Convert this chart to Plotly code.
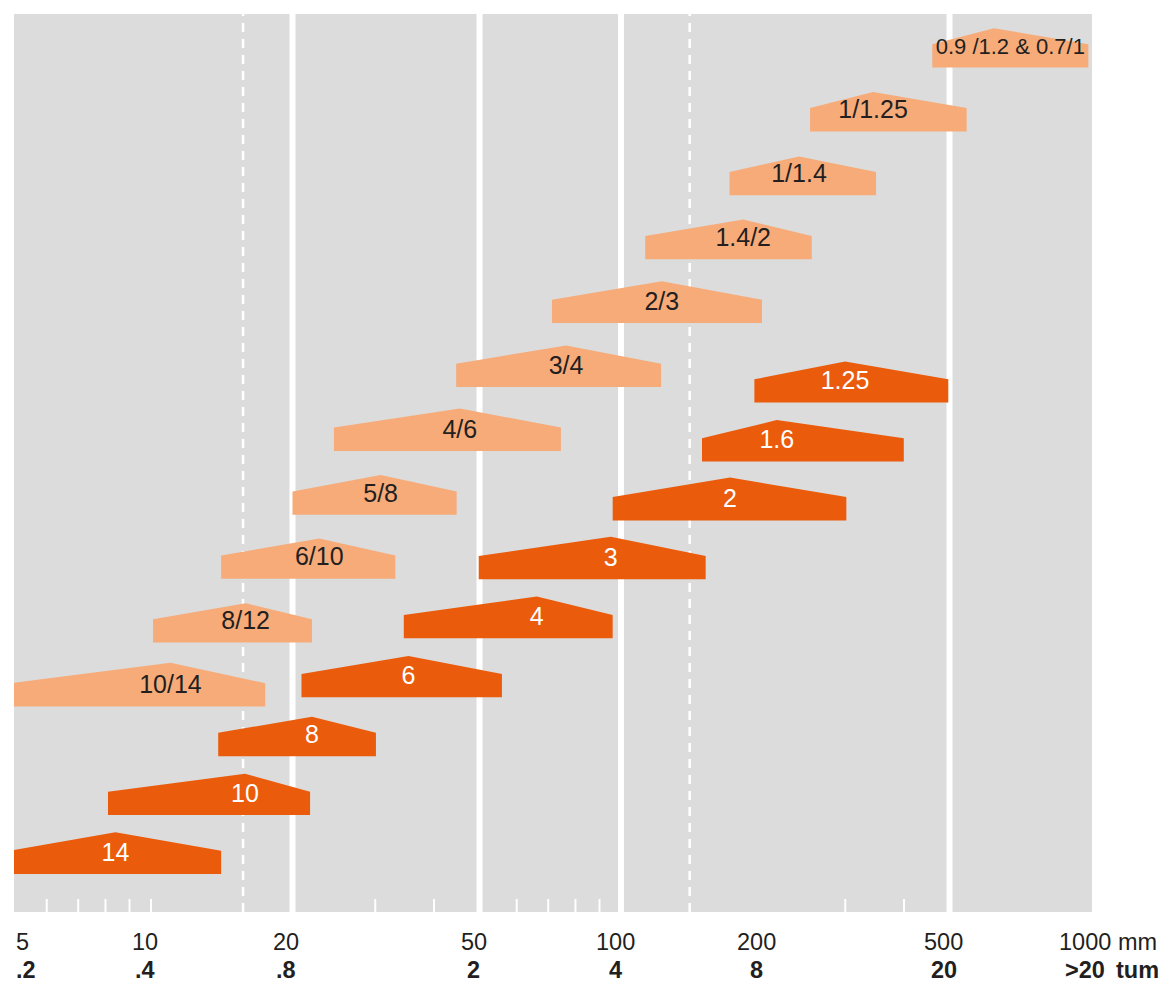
import numpy as np
import plotly.graph_objects as go

# ---------------- data (mm) ----------------
light_labels = ["10/14", "8/12", "6/10", "5/8", "4/6", "3/4", "2/3", "1.4/2",
                "1/1.4", "1/1.25", "0.9 /1.2 & 0.7/1"]
light_left = [5.0, 10.1, 14.1, 20.0, 24.5, 44.6, 71.3, 112.6, 170.2, 252.5, 459.5]
light_peak = [11.0, 15.9, 22.8, 30.8, 45.4, 76.4, 122.1, 182.0, 239.2, 343.8, 621.7]
light_right = [17.5, 22.0, 33.1, 44.7, 74.5, 121.7, 199.5, 254.6, 348.9, 543.8, 987.0]

dark_labels = ["14", "10", "8", "6", "4", "3", "2", "1.6", "1.25"]
dark_left = [5.0, 8.1, 13.9, 20.9, 34.5, 49.8, 96.0, 148.7, 192.2]
dark_peak = [8.4, 15.85, 22.0, 35.3, 66.2, 95.1, 170.6, 214.5, 299.7]
dark_right = [14.1, 21.8, 30.1, 55.8, 96.0, 151.4, 301.6, 399.6, 497.0]

mm_ticks = [5, 10, 20, 50, 100, 200, 500, 1000]
mm_text = ["5", "10", "20", "50", "100", "200", "500", "1000"]
inch_text = [".2", ".4", ".8", "2", "4", "8", "20", ">20"]
major_lines = [20, 50, 100, 500]
dashed_lines = [15.7, 140]
minor_ticks = [6, 7, 8, 9, 10, 30, 40, 60, 70, 80, 90, 300, 400]

# ---------------- style / layout ----------------
W, H = 1161, 983
ML, MR, MT, MB = 14, 69, 14, 71
PLOT_H = H - MT - MB
XMIN, XMAX = 0.7085, 3.0021
PX_PER_DEC = (W - ML - MR) / (XMAX - XMIN)

GRAY = "#DCDCDC"
LIGHT = "#F6AB79"
DARK = "#EA5B0C"
TXT_DARK = "#231F20"
FONT = "Liberation Sans, Arial, sans-serif"
LABEL_SIZE = 25
LONG_LABEL_SIZE = 22
TICK_SIZE = 23.5

DARK_BASE, DARK_STEP = 38.0, 58.93
LIGHT_BASE, LIGHT_STEP = 205.5, 63.9
BODY_H = 23.3
LABEL_DY = 19.5
ROW1_Y, ROW2_Y = -30, -58

fig = go.Figure()

# white major lines
for v in major_lines:
    fig.add_trace(go.Scatter(x=[v, v], y=[0, PLOT_H], mode="lines",
                             line=dict(color="white", width=6),
                             hoverinfo="skip", showlegend=False))
# dashed lines
for v in dashed_lines:
    fig.add_trace(go.Scatter(x=[v, v], y=[0, PLOT_H], mode="lines",
                             line=dict(color="white", width=2.5, dash="9px,7px"),
                             hoverinfo="skip", showlegend=False))
# minor ticks at bottom
for v in minor_ticks:
    fig.add_trace(go.Scatter(x=[v, v], y=[0, 13], mode="lines",
                             line=dict(color="white", width=2),
                             hoverinfo="skip", showlegend=False))


def add_series(labels, left, peak, right, base, step, fill, tcolor):
    for i, lab in enumerate(labels):
        l, p, r = left[i], peak[i], right[i]
        b = base + step * i
        s = b + BODY_H
        wpx = (np.log10(r) - np.log10(l)) * PX_PER_DEC
        top = s + 9 + 0.045 * wpx
        fig.add_trace(go.Scatter(x=[l, l, p, r, r, l], y=[b, s, top, s, b, b],
                                 mode="lines", fill="toself", fillcolor=fill,
                                 line=dict(width=0, color=fill),
                                 hoverinfo="skip", showlegend=False))
        if len(lab) > 8:
            cx, size = np.sqrt(l * r), LONG_LABEL_SIZE
        else:
            cx, size = p, LABEL_SIZE
        fig.add_trace(go.Scatter(x=[cx], y=[b + LABEL_DY], text=[lab], mode="text",
                                 textposition="middle center",
                                 textfont=dict(family=FONT, size=size, color=tcolor),
                                 hoverinfo="skip", showlegend=False))


add_series(light_labels, light_left, light_peak, light_right,
           LIGHT_BASE, LIGHT_STEP, LIGHT, TXT_DARK)
add_series(dark_labels, dark_left, dark_peak, dark_right,
           DARK_BASE, DARK_STEP, DARK, "white")

# axis labels
ann = []
for v, a, b in zip(mm_ticks, mm_text, inch_text):
    lv = np.log10(v)
    if lv < XMIN:
        xa, anchor, sh = XMIN, "left", 0
    else:
        xa, anchor, sh = lv, "center", -6
    ann.append(dict(x=xa, y=ROW1_Y / PLOT_H, xref="x", yref="paper", text=a,
                    showarrow=False, xanchor=anchor, yanchor="middle", xshift=sh,
                    font=dict(family=FONT, size=TICK_SIZE, color=TXT_DARK)))
    ann.append(dict(x=xa, y=ROW2_Y / PLOT_H, xref="x", yref="paper",
                    text="<b>" + b + "</b>", showarrow=False, xanchor=anchor,
                    yanchor="middle", xshift=sh,
                    font=dict(family=FONT, size=TICK_SIZE, color=TXT_DARK)))
ann.append(dict(x=1, y=ROW1_Y / PLOT_H, xref="paper", yref="paper", text="mm",
                showarrow=False, xanchor="left", yanchor="middle", xshift=24,
                font=dict(family=FONT, size=TICK_SIZE, color=TXT_DARK)))
ann.append(dict(x=1, y=ROW2_Y / PLOT_H, xref="paper", yref="paper", text="<b>tum</b>",
                showarrow=False, xanchor="left", yanchor="middle", xshift=22,
                font=dict(family=FONT, size=TICK_SIZE, color=TXT_DARK)))

fig.update_layout(
    width=W, height=H,
    margin=dict(l=ML, r=MR, t=MT, b=MB, pad=0),
    plot_bgcolor=GRAY, paper_bgcolor="white",
    xaxis=dict(type="log", range=[XMIN, XMAX], showgrid=False, zeroline=False,
               showticklabels=False, ticks="", showline=False, fixedrange=True),
    yaxis=dict(range=[0, PLOT_H], showgrid=False, zeroline=False,
               showticklabels=False, ticks="", showline=False, fixedrange=True),
    annotations=ann,
    showlegend=False,
)

fig.write_html("out.html", config=dict(displayModeBar=False),
               post_script="document.body.style.margin='0';")
